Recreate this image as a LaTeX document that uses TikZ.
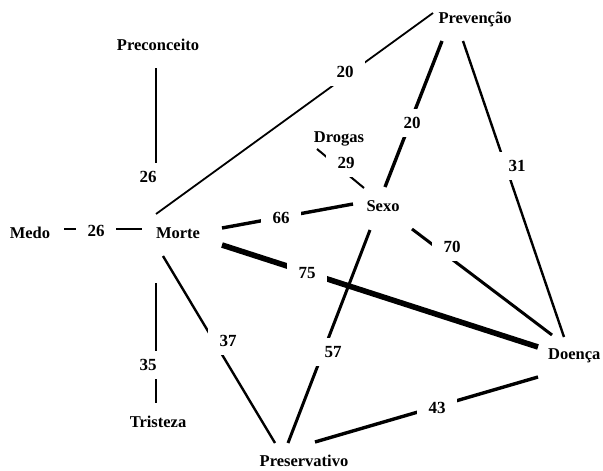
\documentclass[tikz,border=0pt]{standalone}
\usepackage{fontspec}
\setmainfont{Liberation Serif}
\usetikzlibrary{calc}
\begin{document}
\begin{tikzpicture}[x=1pt,y=-1pt,
  nd/.style={inner sep=0pt,text height=11.5pt,text depth=0pt,font=\bfseries\fontsize{16.5}{18}\selectfont},
  lbl/.style={fill=white,inner sep=0pt,minimum width=40pt,minimum height=28pt,text height=11.5pt,text depth=0pt,font=\bfseries\fontsize{17}{18}\selectfont},
  lblb/.style={lbl},
  edge/.style={draw=black,line width=#1}]
\useasboundingbox (0,0) rectangle (603,471);
% nodes
\node[nd] (prev) at (475,18) {Prevenção};
\node[nd] (precon) at (158,45) {Preconceito};
\node[nd] (drogas) at (339,137) {Drogas};
\node[nd] (sexo) at (383,206) {Sexo};
\node[nd] (medo) at (30,233) {Medo};
\node[nd] (morte) at (178,233) {Morte};
\node[nd,anchor=west] (doenca) at (548,354) {Doença};
\node[nd] (tristeza) at (158,422) {Tristeza};
\node[nd] (preserv) at (304,461) {Preservativo};
% label positions
\coordinate (c1) at (345,72);
\coordinate (c2) at (148,177);
\coordinate (c3) at (96,231);
\coordinate (c4) at (281,218);
\coordinate (c5) at (307,273);
\coordinate (c6) at (228,341);
\coordinate (c7) at (148,365);
\coordinate (c8) at (412,123);
\coordinate (c9) at (517,166);
\coordinate (c10) at (346,163);
\coordinate (c11) at (452,247);
\coordinate (c12) at (333,352);
\coordinate (c13) at (437,408);
% edges
\draw[edge=1.8] ($(prev)+(-42,-5)$) -- ($(morte)+(-22,-19)$);
\draw[edge=2] ($(precon)+(-2,23)$) -- ($(c2)+(8,0)$);
\draw[edge=2.6] ($(medo)+(34,-4)$) -- ($(morte)+(-36,-4)$);
\draw[edge=3.4] ($(morte)+(44,-5)$) -- ($(sexo)+(-30,-2)$);
\draw[edge=5.6] ($(morte)+(44,12)$) -- ($(doenca.west)+(-10,-7)$);
\draw[edge=2.4] ($(morte)+(-15,23)$) -- ($(preserv)+(-29,-18)$);
\draw[edge=2.8] ($(morte)+(-22,50)$) -- ($(tristeza)+(-2,-19)$);
\draw[edge=3.4] ($(prev)+(-33,23)$) -- ($(sexo)+(2,-19)$);
\draw[edge=2.4] ($(prev)+(-12,23)$) -- ($(doenca.west)+(16,-17)$);
\draw[edge=2] ($(drogas)+(-22,12)$) -- ($(sexo)+(-19,-18)$);
\draw[edge=3] ($(sexo)+(29,23)$) -- ($(doenca.west)+(4,-19)$);
\draw[edge=3] ($(sexo)+(-13,24)$) -- ($(preserv)+(-16,-18)$);
\draw[edge=3.4] ($(preserv)+(11,-19)$) -- ($(doenca.west)+(-10,23)$);
% labels
\node[lblb] (l1) at (c1) {20};
\node[lblb] (l2) at (c2) {26};
\node[lblb] (l3) at (c3) {26};
\node[lbl] (l4) at (c4) {66};
\node[lbl] (l5) at (c5) {75};
\node[lbl] (l6) at (c6) {37};
\node[lbl] (l7) at (c7) {35};
\node[lblb] (l8) at (c8) {20};
\node[lblb] (l9) at (c9) {31};
\node[lblb] (l10) at (c10) {29};
\node[lbl] (l11) at (c11) {70};
\node[lbl] (l12) at (c12) {57};
\node[lbl] (l13) at (c13) {43};
\end{tikzpicture}
\end{document}
